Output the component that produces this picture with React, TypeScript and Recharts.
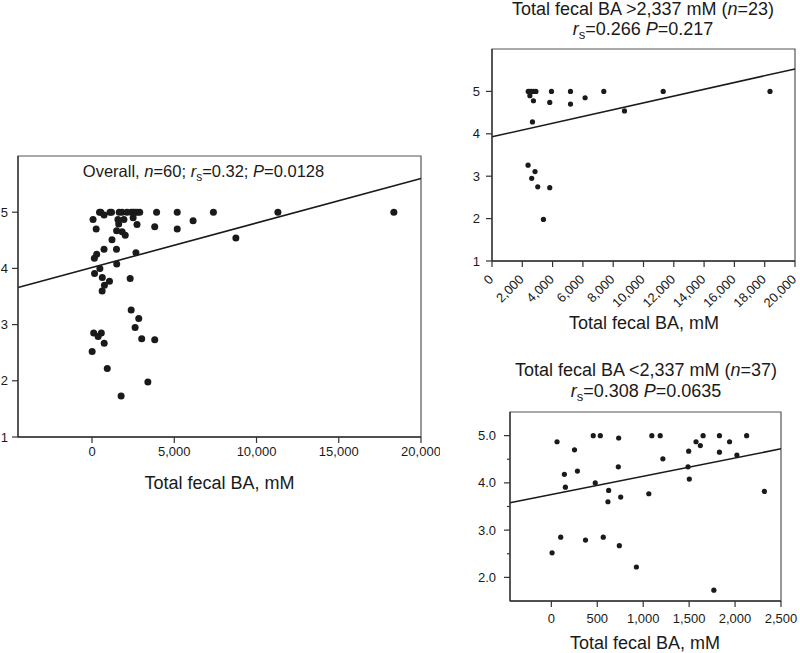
import React from 'react';
import { ScatterChart, Scatter, XAxis, YAxis, ReferenceLine, ReferenceArea } from 'recharts';

// ---- data: total fecal BA (mM) vs score ----
const highX = [2390, 2500, 2620, 2750, 2900, 2500, 2735, 3925, 3812, 5180, 5180, 6145, 7380, 8745, 11300, 18350, 2670, 2380, 2840, 2620, 3020, 3812, 3395];
const highY = [5.0, 5.0, 5.0, 5.0, 5.0, 4.9, 4.78, 5.0, 4.74, 5.0, 4.7, 4.85, 5.0, 4.54, 5.0, 5.0, 4.28, 3.26, 3.11, 2.95, 2.75, 2.73, 1.98];

const lowX = [62, 252, 142, 153, 284, 456, 533, 733, 478, 624, 616, 729, 755, 1061, 1094, 1185, 1214, 1495, 1488, 1502, 1575, 1622, 1652, 1830, 1830, 1940, 2020, 2126, 2319, 102, 372, 565, 740, 8, 926, 1769];
const lowY = [4.87, 4.7, 4.18, 3.91, 4.25, 5.0, 5.0, 4.95, 4.0, 3.84, 3.6, 4.34, 3.7, 3.77, 5.0, 5.0, 4.51, 4.67, 4.34, 4.08, 4.87, 4.79, 5.0, 5.0, 4.65, 4.87, 4.59, 5.0, 3.82, 2.85, 2.79, 2.85, 2.67, 2.52, 2.22, 1.73];

// regression line end points
const overallFit = [{ x: -4500, y: 3.66 }, { x: 20000, y: 5.6 }];
const highFit = [{ x: 0, y: 3.93 }, { x: 20000, y: 5.53 }];
const lowFit = [{ x: -450, y: 3.58 }, { x: 2500, y: 4.72 }];

// ticks / domains
const overallXDomain = [-4500, 20000];
const overallYDomain = [1, 6];
const overallXTicks = [0, 5000, 10000, 15000, 20000];
const overallYTicks = [1, 2, 3, 4, 5];
const highXDomain = [0, 20000];
const highYDomain = [1, 6];
const highXTicks = [0, 2000, 4000, 6000, 8000, 10000, 12000, 14000, 16000, 18000, 20000];
const highYTicks = [1, 2, 3, 4, 5];
const lowXDomain = [-450, 2500];
const lowYDomain = [1.5, 5.5];
const lowXTicks = [0, 500, 1000, 1500, 2000, 2500];
const lowYTicks = [2, 2.5, 3, 3.5, 4, 4.5, 5];

const zip = (xs: number[], ys: number[]) => xs.map((x, i) => ({ x, y: ys[i] }));
const highData = zip(highX, highY);
const lowData = zip(lowX, lowY);
const overallData = [...lowData, ...highData];

const FONT = '"Liberation Sans", Arial, Helvetica, sans-serif';
const INK = '#1a1a1a';
const AX = '#333';
const fmt = (v: number) => v.toLocaleString('en-US');

const dot = (r: number) => (p: any) => <circle cx={p.cx} cy={p.cy} r={r} fill={INK} />;

const tickStyle = { fontSize: 13, fill: INK, fontFamily: FONT };

const HighXTick = (props: any) => {
  const { x, y, payload } = props;
  const ax = x - 1;
  const ay = y + 10;
  return (
    <text x={ax} y={ay} dy="0.35em" textAnchor="end" transform={`rotate(-45, ${ax}, ${ay})`} {...tickStyle}>
      {fmt(payload.value)}
    </text>
  );
};

const LowYTick = (props: any) => {
  const { x, y, payload } = props;
  const v = payload.value as number;
  const major = Number.isInteger(v);
  return (
    <g>
      <line x1={x - (major ? 6 : 3)} x2={x} y1={y} y2={y} stroke={AX} strokeWidth={1.2} />
      {major && (
        <text x={x - 14} y={y} dy="0.35em" textAnchor="end" {...tickStyle}>
          {v.toFixed(1)}
        </text>
      )}
    </g>
  );
};

export default function App() {
  return (
    <div style={{ position: 'absolute', left: 0, top: 0, width: 800, height: 653, background: '#fff', fontFamily: FONT }}>
      {/* Overall */}
      <div style={{ position: 'absolute', left: 0, top: 120 }}>
        <ScatterChart width={440} height={400} margin={{ top: 36, right: 19, bottom: 53, left: 0 }}>
          <XAxis type="number" dataKey="x" domain={overallXDomain} ticks={overallXTicks} allowDataOverflow
            tickFormatter={fmt} tick={tickStyle} tickSize={6} tickMargin={4}
            axisLine={{ stroke: AX, strokeWidth: 1.3 }} tickLine={{ stroke: AX, strokeWidth: 1.2 }} height={30} />
          <YAxis type="number" dataKey="y" domain={overallYDomain} ticks={overallYTicks} allowDataOverflow
            tick={tickStyle} tickSize={6} tickMargin={4} width={18}
            axisLine={{ stroke: AX, strokeWidth: 1.3 }} tickLine={{ stroke: AX, strokeWidth: 1.2 }} />
          <ReferenceArea x1={overallXDomain[0]} x2={overallXDomain[1]} y1={overallYDomain[0]} y2={overallYDomain[1]}
            fill="none" stroke="#555" strokeWidth={1.2} ifOverflow="visible" />
          <ReferenceLine segment={overallFit} stroke={INK} strokeWidth={1.6} ifOverflow="visible" />
          <Scatter data={overallData} isAnimationActive={false} shape={dot(3.5)} />
        </ScatterChart>
      </div>

      {/* High */}
      <div style={{ position: 'absolute', left: 440, top: 0 }}>
        <ScatterChart width={360} height={340} margin={{ top: 49, right: 5, bottom: 29, left: 0 }}>
          <XAxis type="number" dataKey="x" domain={highXDomain} ticks={highXTicks} allowDataOverflow
            tick={<HighXTick />} tickSize={6} tickMargin={0} interval={0}
            axisLine={{ stroke: AX, strokeWidth: 1.3 }} tickLine={{ stroke: AX, strokeWidth: 1.2 }} height={50} />
          <YAxis type="number" dataKey="y" domain={highYDomain} ticks={highYTicks} allowDataOverflow
            tick={tickStyle} tickSize={6} tickMargin={6} width={52}
            axisLine={{ stroke: AX, strokeWidth: 1.3 }} tickLine={{ stroke: AX, strokeWidth: 1.2 }} />
          <ReferenceArea x1={highXDomain[0]} x2={highXDomain[1]} y1={highYDomain[0]} y2={highYDomain[1]}
            fill="none" stroke="#555" strokeWidth={1.2} ifOverflow="visible" />
          <ReferenceLine segment={highFit} stroke={INK} strokeWidth={1.5} ifOverflow="visible" />
          <Scatter data={highData} isAnimationActive={false} shape={dot(2.6)} />
        </ScatterChart>
      </div>

      {/* Low */}
      <div style={{ position: 'absolute', left: 440, top: 350 }}>
        <ScatterChart width={360} height={303} margin={{ top: 62, right: 19, bottom: 22, left: 0 }}>
          <XAxis type="number" dataKey="x" domain={lowXDomain} ticks={lowXTicks} allowDataOverflow
            tickFormatter={fmt} tick={tickStyle} tickSize={6} tickMargin={7} interval={0}
            axisLine={{ stroke: AX, strokeWidth: 1.3 }} tickLine={{ stroke: AX, strokeWidth: 1.2 }} height={30} />
          <YAxis type="number" dataKey="y" domain={lowYDomain} ticks={lowYTicks} allowDataOverflow interval={0}
            tick={<LowYTick />} tickSize={0} tickMargin={0} width={70}
            axisLine={{ stroke: AX, strokeWidth: 1.3 }} tickLine={false} />
          <ReferenceArea x1={lowXDomain[0]} x2={lowXDomain[1]} y1={lowYDomain[0]} y2={lowYDomain[1]}
            fill="none" stroke="#555" strokeWidth={1.2} ifOverflow="visible" />
          <ReferenceLine segment={lowFit} stroke={INK} strokeWidth={1.5} ifOverflow="visible" />
          <Scatter data={lowData} isAnimationActive={false} shape={dot(2.6)} />
        </ScatterChart>
      </div>

      {/* titles and axis labels */}
      <svg width={800} height={653} style={{ position: 'absolute', left: 0, top: 0, pointerEvents: 'none' }}>
        <g fill={INK} fontFamily={FONT}>
          <text x={203.5} y={176.5} textAnchor="middle" fontSize={16.5}>
            Overall, <tspan fontStyle="italic">n</tspan>=60; <tspan fontStyle="italic">r</tspan>
            <tspan dy={4} fontSize={12}>s</tspan><tspan dy={-4}>=0.32; </tspan>
            <tspan fontStyle="italic">P</tspan>=0.0128
          </text>
          <text x={219.5} y={489} textAnchor="middle" fontSize={18}>Total fecal BA, mM</text>

          <text x={643} y={15} textAnchor="middle" fontSize={18}>
            Total fecal BA &gt;2,337 mM (<tspan fontStyle="italic">n</tspan>=23)
          </text>
          <text x={643} y={34.5} textAnchor="middle" fontSize={18}>
            <tspan fontStyle="italic">r</tspan><tspan dy={4} fontSize={13}>s</tspan>
            <tspan dy={-4}>=0.266 </tspan><tspan fontStyle="italic">P</tspan>=0.217
          </text>
          <text x={644} y={329} textAnchor="middle" fontSize={18}>Total fecal BA, mM</text>

          <text x={646} y={376} textAnchor="middle" fontSize={18}>
            Total fecal BA &lt;2,337 mM (<tspan fontStyle="italic">n</tspan>=37)
          </text>
          <text x={646} y={397} textAnchor="middle" fontSize={18}>
            <tspan fontStyle="italic">r</tspan><tspan dy={4} fontSize={13}>s</tspan>
            <tspan dy={-4}>=0.308 </tspan><tspan fontStyle="italic">P</tspan>=0.0635
          </text>
          <text x={645} y={649} textAnchor="middle" fontSize={18}>Total fecal BA, mM</text>
        </g>
      </svg>
    </div>
  );
}
